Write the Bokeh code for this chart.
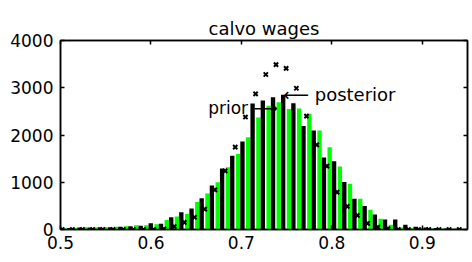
from bokeh.plotting import figure
from bokeh.models import ColumnDataSource, FixedTicker, LinearAxis, Range1d, Label
from bokeh.transform import dodge
from bokeh.core.properties import value
from bokeh.embed import file_html
from bokeh.resources import INLINE

# bin centres of the histograms
bins = [0.4985, 0.5098, 0.5210, 0.5323, 0.5435, 0.5548, 0.5661, 0.5773, 0.5886, 0.5998,
        0.6111, 0.6224, 0.6336, 0.6449, 0.6561, 0.6674, 0.6787, 0.6899, 0.7012, 0.7124,
        0.7237, 0.7350, 0.7462, 0.7575, 0.7687, 0.7800, 0.7913, 0.8025, 0.8138, 0.8250,
        0.8363, 0.8476, 0.8588, 0.8701, 0.8813, 0.8926, 0.9039, 0.9151, 0.9264, 0.9376,
        0.9489]
# posterior histogram (black)
posterior = [20, 30, 40, 40, 50, 50, 60, 70, 80, 130,
             120, 260, 365, 445, 660, 930, 1290, 1560, 1860, 2665,
             2730, 2800, 2850, 2670, 2190, 2095, 1525, 1445, 1005, 650,
             500, 320, 210, 210, 100, 60, 40, 30, 20, 15,
             10]
# prior histogram (green)
prior = [0, 20, 30, 50, 40, 50, 60, 70, 90, 90,
         110, 200, 275, 330, 580, 760, 1000, 1320, 1600, 1950,
         2370, 2620, 2695, 2550, 2560, 2450, 2095, 1740, 1333, 970,
         650, 420, 230, 100, 40, 30, 30, 20, 20, 20,
         10]
# markers
marks = [0, 0, 0, 0, 0, 0, 0, 0, 0, 0,
         10, 60, 150, 260, 430, 840, 1240, 1745, 2380, 2870,
         3280, 3490, 3410, 2990, 2400, 1790, 1340, 790, 490, 300,
         130, 50, 20, 0, 0, 0, 0, 0, 0, 0,
         0]
x_ticks = [0.5, 0.6, 0.7, 0.8, 0.9]
y_ticks = [0, 1000, 2000, 3000, 4000]
title_text = "calvo wages"
x_label = "indexation"
prior_note = (0.7403, 2580)

FONT = "DejaVu Sans"

src = ColumnDataSource(dict(x=bins, post=posterior, prior=prior, m=marks))

p = figure(width=472, height=262, output_backend="svg", toolbar_location=None,
           x_range=Range1d(0.5, 0.95), y_range=Range1d(0, 4000),
           min_border_left=60, min_border_right=5, min_border_top=40, min_border_bottom=33)
p.title.text = title_text
p.title.align = "center"
p.title.text_font = FONT
p.title.text_font_size = "18px"
p.title.text_font_style = "normal"
p.title.text_color = "black"
p.title.offset = 0
p.title.standoff = 4
p.xgrid.visible = False
p.ygrid.visible = False
p.outline_line_color = "black"
p.outline_line_width = 1.5
p.background_fill_color = "white"
p.border_fill_color = "white"

p.vbar(x=dodge("x", -0.0049, range=p.x_range), top="prior", width=0.0048, source=src,
       fill_color="#00ff00", line_color=None)
p.vbar(x="x", top="post", width=0.0048, source=src, fill_color="black", line_color=None)
p.scatter(x=dodge("x", 0.0033, range=p.x_range), y="m", source=src, marker="x", size=6,
          line_color="black", line_width=2)

# annotations
ipk = posterior.index(max(posterior))
p.text(x=[bins[ipk]], y=[posterior[ipk]], text=["⟵ posterior"], text_align="left",
       text_baseline="middle", text_font=value(FONT), text_font_size="18px", text_color="black")
p.text(x=[prior_note[0]], y=[prior_note[1]], text=["prior ⟶"], text_align="right",
       text_baseline="middle", text_font=value(FONT), text_font_size="17px", text_color="black")

# x-axis label, mostly below the visible page as in the reference
p.add_layout(Label(x=(x_ticks[0] + 0.95) / 2, y=-25, y_units="screen", text=x_label,
                   text_align="center", text_baseline="top", text_font=FONT,
                   text_font_size="18px", text_color="black"))

p.xaxis.ticker = FixedTicker(ticks=x_ticks)
p.yaxis.ticker = FixedTicker(ticks=y_ticks)

top_ax = LinearAxis(ticker=FixedTicker(ticks=x_ticks),
                    major_label_overrides={t: "" for t in x_ticks})
right_ax = LinearAxis(ticker=FixedTicker(ticks=y_ticks),
                      major_label_overrides={t: "" for t in y_ticks})
p.add_layout(top_ax, "above")
p.add_layout(right_ax, "right")

for ax in [p.below[0], p.left[0], top_ax, right_ax]:
    ax.major_tick_in = 4
    ax.major_tick_out = 0
    ax.minor_tick_in = 0
    ax.minor_tick_out = 0
    ax.axis_line_width = 1.5
    ax.major_tick_line_width = 1.5
    ax.major_label_text_font = FONT
    ax.major_label_text_font_size = "17px"
    ax.major_label_text_color = "black"
p.below[0].major_label_standoff = 6
p.left[0].major_label_standoff = 7
top_ax.major_label_standoff = 0
right_ax.major_label_standoff = 0

open("out.html", "w").write(file_html(p, INLINE))
